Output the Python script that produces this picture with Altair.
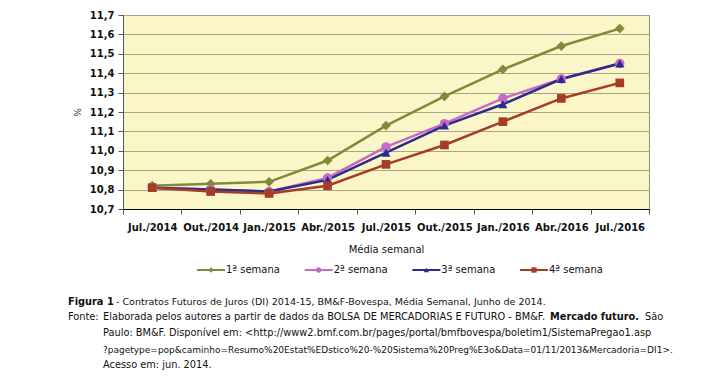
import altair as alt
import pandas as pd

categorias = ["Jul./2014", "Out./2014", "Jan./2015", "Abr./2015", "Jul./2015",
              "Out./2015", "Jan./2016", "Abr./2016", "Jul./2016"]
series = ["1ª semana", "2ª semana", "3ª semana", "4ª semana"]
semana1 = [10.82, 10.83, 10.84, 10.95, 11.13, 11.28, 11.42, 11.54, 11.63]
semana2 = [10.81, 10.80, 10.79, 10.86, 11.02, 11.14, 11.27, 11.37, 11.45]
semana3 = [10.81, 10.80, 10.79, 10.85, 10.99, 11.13, 11.24, 11.37, 11.45]
semana4 = [10.81, 10.79, 10.78, 10.82, 10.93, 11.03, 11.15, 11.27, 11.35]

cores = ["#808a3a", "#c46cc4", "#2c2a8c", "#a43c26"]
formas = ["diamond", "circle", "triangle-up", "square"]
tamanhos = [95, 75, 130, 125]

rows = []
for s, vals in zip(series, [semana1, semana2, semana3, semana4]):
    for c, v in zip(categorias, vals):
        rows.append({"mes": c, "serie": s, "valor": v})
df = pd.DataFrame(rows)
leg = pd.DataFrame({"serie": series})

FONT = "DejaVu Sans"
W, H = 526, 194

xenc = alt.X("mes:N", sort=categorias, title="Média semanal",
             scale=alt.Scale(paddingInner=0, paddingOuter=0),
             axis=alt.Axis(labelAngle=0, tickBand="extent", domainColor="#000",
                           tickColor="#555", tickSize=5, labelPadding=8,
                           labelFontSize=10, labelColor="#111", labelFont=FONT,
                           labelFontWeight="bold",
                           titleFont=FONT, titleFontSize=10, titleFontWeight="normal",
                           titlePadding=12, titleColor="#111", grid=False))
yenc = alt.Y("valor:Q", title="%",
             scale=alt.Scale(domain=[10.7, 11.7], nice=False, zero=False),
             axis=alt.Axis(values=[10.7 + i * 0.1 for i in range(11)],
                           labelExpr="replace(format(datum.value, '.1f'), '.', ',')",
                           domainColor="#555", tickColor="#555", tickSize=5,
                           labelFontSize=10, labelColor="#111", labelFont=FONT,
                           labelFontWeight="bold", labelPadding=4,
                           titleFont=FONT, titleFontSize=9, titleFontWeight="normal",
                           titleColor="#333", titlePadding=7,
                           gridColor="#a8a68a", gridWidth=1))

color = alt.Color("serie:N", scale=alt.Scale(domain=series, range=cores), legend=None)
shape = alt.Shape("serie:N", scale=alt.Scale(domain=series, range=formas), legend=None)
size = alt.Size("serie:N", scale=alt.Scale(domain=series, range=tamanhos), legend=None)

base = alt.Chart(df).encode(x=xenc, y=yenc, color=color)
lines = base.mark_line(strokeWidth=2.5)
points = base.mark_point(filled=True, opacity=1).encode(shape=shape, size=size)
main = alt.layer(lines, points)

lx = alt.X("serie:N", sort=series, axis=None,
           scale=alt.Scale(range=[88, 411], padding=0))
legshape = alt.Shape("serie:N", scale=alt.Scale(domain=series, range=formas), legend=None)
LY = 270 - 15
leg_line = alt.Chart(leg).mark_point(shape="M-1,0H1", size=784, filled=False,
                                      strokeWidth=2, opacity=1).encode(
    x=lx, y=alt.value(LY), color=color)
leg_pt = alt.Chart(leg).mark_point(filled=True, size=28, opacity=1).encode(
    x=lx, y=alt.value(LY), color=color, shape=legshape)
leg_txt = alt.Chart(leg).mark_text(align="left", dx=15, font=FONT, fontSize=10,
                                   color="#111").encode(
    x=lx, y=alt.value(LY), text="serie:N")
legend = alt.layer(leg_line, leg_pt, leg_txt)

OX, OY = 123, 15
cap_lines = [
    ("Figura 1", "bold", 68, 302, 9.8),
    ("- Contratos Futuros de Juros (DI) 2014-15, BM&F-Bovespa, Média Semanal, Junho de 2014.", "normal", 116, 302, 9.5),
    ("Fonte:", "normal", 68, 317, 9.8),
    ("Elaborada pelos autores a partir de dados da BOLSA DE MERCADORIAS E FUTURO - BM&F.", "normal", 103, 317, 9.8),
    ("Mercado futuro.", "bold", 550, 317, 9.8),
    ("São", "normal", 645, 317, 9.8),
    ("Paulo: BM&F. Disponível em: <http://www2.bmf.com.br/pages/portal/bmfbovespa/boletim1/SistemaPregao1.asp", "normal", 103, 333, 9.8),
    ("?pagetype=pop&caminho=Resumo%20Estat%EDstico%20-%20Sistema%20Preg%E3o&Data=01/11/2013&Mercadoria=DI1>.", "normal", 103, 350, 9),
    ("Acesso em: jun. 2014.", "normal", 103, 365, 9.8),
]
cap_layers = []
for txt, wt, xx, yy, fs in cap_lines:
    cap_layers.append(
        alt.Chart(pd.DataFrame({"t": [txt]})).mark_text(
            align="left", baseline="middle", font=FONT, fontSize=fs,
            fontWeight=wt, color="#111").encode(
            x=alt.value(xx - OX), y=alt.value(yy - OY), text="t:N"))

chart = alt.layer(main, legend, *cap_layers).resolve_scale(
    x="independent", shape="independent"
).properties(
    width=W, height=H,
    background="white",
    padding={"left": 115, "top": 7, "right": 70, "bottom": 168},
    autosize=alt.AutoSizeParams(type="none"),
).configure_view(fill="#faf6c8", stroke="#8a8a8a", strokeWidth=1)

chart.save("out.html", embed_options={"renderer": "svg", "actions": False})
